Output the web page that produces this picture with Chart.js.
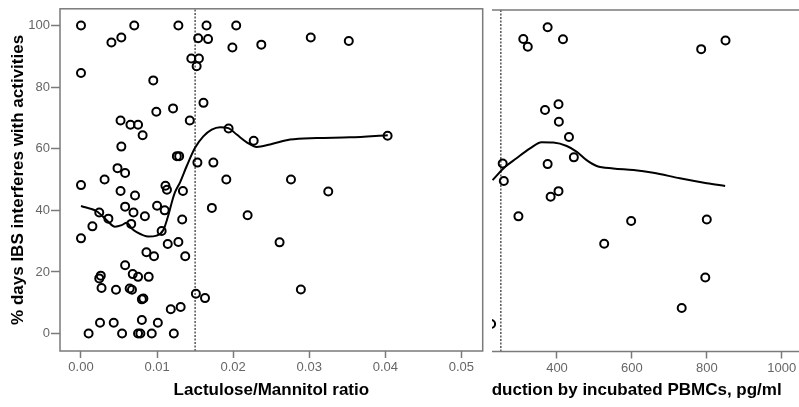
<!DOCTYPE html>
<html><head><meta charset="utf-8">
<script src="https://cdn.jsdelivr.net/npm/chart.js@4.4.0/dist/chart.umd.min.js"></script>
<style>
html,body{margin:0;padding:0;background:#fff;width:799px;height:407px;overflow:hidden;}
#w1{position:absolute;left:0;top:0;width:487px;height:407px;}
#w2{position:absolute;left:492px;top:0;width:307px;height:407px;overflow:hidden;}
#b2{position:absolute;left:-63px;top:0;width:388px;height:407px;}
</style></head>
<body>
<div id="w1"><canvas id="c1" width="487" height="407"></canvas></div>
<div id="w2"><div id="b2"><canvas id="c2" width="388" height="407"></canvas></div></div>
<script>
// ---- Left panel data ----
const leftX = [0.0000,0.0000,0.0040,0.0053,0.0070,0.0128,0.0145,0.0155,0.0152,0.0154,0.0167,0.0165,0.0204,0.0199,0.0237,
  0.0095,0.0099,0.0121,0.0143,0.0161,0.0052,0.0065,0.0075,0.0081,0.0194,0.0227,0.0053,0.0126,0.0129,0.0153,0.0174,
  0.0048,0.0058,0.0031,0.0191,0.0000,0.0052,0.0071,0.0111,0.0113,0.0134,0.0000,0.0015,0.0024,0.0036,0.0058,0.0069,
  0.0066,0.0084,0.0100,0.0110,0.0106,0.0133,0.0114,0.0128,0.0086,0.0096,0.0137,0.0058,0.0172,0.0219,0.0026,0.0024,
  0.0068,0.0075,0.0089,0.0027,0.0046,0.0064,0.0067,0.0080,0.0082,0.0151,0.0163,0.0118,0.0131,0.0025,0.0043,0.0080,
  0.0101,0.0010,0.0054,0.0075,0.0078,0.0093,0.0122,0.0302,0.0352,0.0403,0.0276,0.0325,0.0261,0.0289];
const leftY = [100,84.6,94.5,96.1,100,100,89.3,89.3,86.8,95.9,95.6,100,100,92.9,93.8,
  82.2,72.0,73.1,69.2,74.9,69.2,67.8,67.8,64.4,66.6,62.6,60.7,57.6,57.6,55.5,55.5,
  53.7,52.1,50.0,50.0,48.2,46.3,44.8,48.0,46.7,46.3,30.9,34.8,39.3,37.3,41.2,39.3,
  35.6,38.1,41.5,40.0,33.3,37.0,29.1,29.7,26.4,25.1,25.1,22.2,40.8,38.4,18.8,17.9,
  19.3,18.4,18.4,14.8,14.2,14.6,14.2,11.1,11.4,12.9,11.5,7.9,8.6,3.5,3.5,4.4,
  3.5,0,0,0,0,0,0,96.1,95.0,64.2,50.0,46.1,29.6,14.3];
const leftFitX = [0.0000,0.00206,0.00338,0.00447,0.00535,0.00601,0.00667,0.00732,0.00885,0.00995,0.01082,0.01148,0.01206,
  0.01236,0.01302,0.0139,0.01499,0.01608,0.01718,0.01828,0.01937,0.02047,0.02179,0.0231,0.02485,0.02748,0.03099,0.03537,0.04032];
const leftFitY = [41.4,39.7,36.8,34.7,35.2,36.0,34.1,32.9,31.5,31.8,33.6,38.4,43.7,
  45.9,49.1,54.4,60.3,64.0,66.2,67.0,66.7,64.6,62.1,60.6,61.4,63.0,63.5,63.7,64.4];
const leftXTicks = [0, 0.01, 0.02, 0.03, 0.04, 0.05];
const leftYTicks = [0, 20, 40, 60, 80, 100];
const leftCutoff = 0.015;

// ---- Right panel data ----
const rightX = [310,322,375,416,785,850,368,404,405,432,445,375,255,258,404,383,297,598,800,526,796,733,224];
const rightY = [96.0,93.5,99.8,95.9,92.7,95.5,72.9,74.8,69.1,64.1,57.5,55.3,55.5,49.8,46.5,44.7,38.3,36.8,37.3,29.4,18.4,8.5,3.3];
const rightFitX = [228,257,292,328,359,390,426,453,479,506,550,604,657,728,800,849];
const rightFitY = [50.1,53.9,57.2,60.4,62.4,62.3,61.2,59.3,56.6,54.7,53.9,53.4,52.5,50.7,49.1,48.2];
const rightXTicks = [400, 600, 800, 1000];
const rightCutoff = 250;

const yMin = -5.67, yMax = 105.44;
const FONT = "'Liberation Sans', Arial, Helvetica, sans-serif";
const GRAY = '#7a7a7a';

const framePlugin = {
  id: 'frame',
  afterDatasetsDraw(chart) {
    const {ctx, chartArea: a} = chart;
    ctx.save();
    ctx.strokeStyle = GRAY; ctx.lineWidth = 1.5;
    ctx.strokeRect(a.left, a.top, a.right - a.left, a.bottom - a.top);
    ctx.restore();
  }
};

function pts(xs, ys) { return xs.map((x, i) => ({x, y: ys[i]})); }

function datasets(xs, ys, fx, fy, cut) {
  return [
    {type:'line', data:[{x:cut,y:yMin},{x:cut,y:yMax}], borderColor:'#555', borderWidth:1.5,
      borderDash:[2,1.5], pointRadius:0, fill:false, order:3},
    {type:'line', data:pts(fx, fy), borderColor:'#000', borderWidth:2, pointRadius:0,
      tension:0.4, cubicInterpolationMode:'monotone', fill:false, order:2},
    {type:'scatter', data:pts(xs, ys), pointRadius:4, pointBorderWidth:2, borderColor:'#000',
      pointBorderColor:'#000', backgroundColor:'rgba(0,0,0,0)', pointBackgroundColor:'rgba(0,0,0,0)', order:1}
  ];
}

const tickFont = {family: FONT, size: 13};
const titleFont = {family: FONT, size: 17, weight: 'bold'};

new Chart(document.getElementById('c1'), {
  type: 'scatter',
  data: {datasets: datasets(leftX, leftY, leftFitX, leftFitY, leftCutoff)},
  options: {
    responsive: false, animation: false, devicePixelRatio: 1,
    layout: {autoPadding: false, padding: {left: 0, top: 4, right: 4.3, bottom: 0}},
    plugins: {legend: {display: false}, tooltip: {enabled: false}},
    scales: {
      x: {
        type: 'linear', min: -0.00276, max: 0.0528,
        afterBuildTicks: s => { s.ticks = leftXTicks.map(v => ({value: v})); },
        afterFit: s => { s.height = 56; },
        ticks: {callback: v => Number(v).toFixed(2), color: '#666', font: tickFont, padding: 2, maxRotation: 0, autoSkip: false},
        grid: {display: true, drawOnChartArea: false, drawTicks: true, tickLength: 7, tickColor: GRAY, color: GRAY, tickWidth: 1.5},
        border: {display: false},
        title: {display: true, text: 'Lactulose/Mannitol ratio', color: '#000', font: titleFont, padding: {top: 0, bottom: 6}}
      },
      y: {
        type: 'linear', min: yMin, max: yMax,
        afterBuildTicks: s => { s.ticks = leftYTicks.map(v => ({value: v})); },
        afterFit: s => { s.width = 60; },
        ticks: {callback: v => String(v), color: '#666', font: tickFont, padding: 1, autoSkip: false},
        grid: {display: true, drawOnChartArea: false, drawTicks: true, tickLength: 9, tickColor: GRAY, color: GRAY, tickWidth: 1.5},
        border: {display: false},
        title: {display: true, text: '% days IBS interferes with activities', color: '#000', font: titleFont, padding: {top: 8, bottom: 0}}
      }
    }
  },
  plugins: [framePlugin]
});

new Chart(document.getElementById('c2'), {
  type: 'scatter',
  data: {datasets: datasets(rightX, rightY, rightFitX, rightFitY, rightCutoff)},
  options: {
    responsive: false, animation: false, devicePixelRatio: 1,
    layout: {autoPadding: false, padding: {left: 0, top: 10, right: 0, bottom: 0}},
    plugins: {legend: {display: false}, tooltip: {enabled: false}},
    scales: {
      x: {
        type: 'linear', min: 58.2, max: 1094.3,
        afterBuildTicks: s => { s.ticks = rightXTicks.map(v => ({value: v})); },
        afterFit: s => { s.height = 55.5; s.paddingLeft = 0; s.paddingRight = 0; },
        ticks: {callback: v => String(v), color: '#666', font: tickFont, padding: 2, maxRotation: 0, autoSkip: false},
        grid: {display: true, drawOnChartArea: false, drawTicks: true, tickLength: 7, tickColor: GRAY, color: GRAY, tickWidth: 1.5},
        border: {display: false},
        title: {display: true, text: 'production by incubated PBMCs, pg/ml', color: '#000', font: titleFont, padding: {top: 0, bottom: 6}}
      },
      y: {type: 'linear', min: yMin, max: yMax, display: false}
    }
  },
  plugins: [framePlugin]
});
</script>
</body></html>
